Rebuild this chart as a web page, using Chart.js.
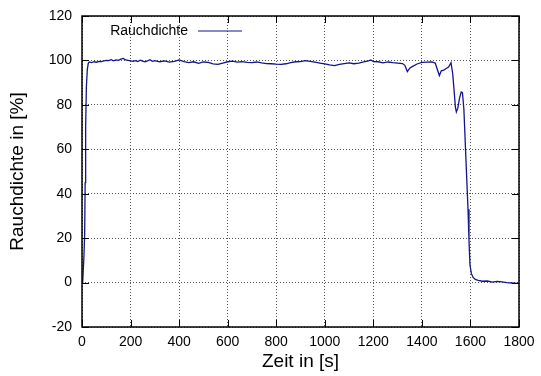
<!DOCTYPE html>
<html>
<head>
<meta charset="utf-8">
<script src="https://cdn.jsdelivr.net/npm/chart.js@4/dist/chart.umd.min.js"></script>
<style>
html,body{margin:0;padding:0;background:#fff;}
#wrap{width:541px;height:376px;position:relative;}
</style>
</head>
<body>
<div id="wrap"><canvas id="c" width="541" height="376"></canvas></div>
<script>
const seriesLabel = 'Rauchdichte';
const xTitle = 'Zeit in [s]';
const yTitle = 'Rauchdichte in [%]';

const zeit = [0,3,8,11,13,15,18,22,26,30,40,50,60,70,80,90,100,110,120,130,140,150,160,170,180,190,200,210,220,230,240,250,260,270,280,290,300,320,340,360,380,400,420,440,460,480,500,520,540,560,580,600,620,640,660,680,700,720,740,760,780,800,820,840,860,880,900,920,940,960,980,1000,1020,1040,1060,1080,1100,1120,1140,1160,1180,1190,1200,1220,1240,1260,1280,1300,1320,1330,1340,1350,1360,1380,1400,1420,1440,1455,1465,1472,1480,1490,1500,1510,1520,1527,1533,1538,1542,1548,1555,1562,1567,1573,1579,1585,1590,1594,1598,1604,1611,1620,1632,1650,1670,1690,1710,1730,1750,1770,1790,1800];
const rauchdichte = [0,0.5,12,22,45,70,88,96,98.8,99.3,99.0,99.4,99.2,99.6,99.5,99.8,100.0,99.9,100.3,99.8,100.2,100.0,100.6,100.9,100.2,100.0,99.8,99.6,99.9,99.5,100.1,99.7,99.4,99.8,100.3,99.6,99.9,99.4,99.8,99.2,99.6,100.2,99.5,99.0,99.4,98.7,99.3,99.1,98.4,98.2,98.8,99.4,99.7,99.2,99.5,99.1,99.0,99.3,98.9,98.6,98.5,98.3,98.2,98.5,99.0,99.4,99.5,99.9,99.6,99.2,98.8,98.4,98.0,97.7,98.2,98.6,98.9,98.5,98.8,99.3,99.8,100.2,99.5,99.4,98.9,99.3,99.0,98.8,98.6,97.8,95.0,96.5,97.2,98.4,99.1,99.2,99.3,98.8,95.5,93.2,95.3,95.6,96.4,97.0,99.0,94,86,79,76.8,78.5,83,85.8,85.5,78,62,46,33,19,8,4,2.3,1.4,1.0,0.6,0.7,0.2,0.5,0.3,0.0,-0.2,-0.4,-0.3];

const xMin = 0, xMax = 1800, xStep = 200;
const yMin = -20, yMax = 120, yStep = 20;

const lineColor = '#14148f';
const fontFam = '"Liberation Sans", Arial, Helvetica, sans-serif';

const framePlugin = {
  id: 'frame',
  afterDatasetsDraw(chart) {
    const {ctx, chartArea: a, scales: {x, y}} = chart;
    ctx.save();
    ctx.strokeStyle = '#000';
    ctx.lineWidth = 1;
    const tl = 7;
    ctx.beginPath();
    x.ticks.forEach(t => {
      const px = Math.round(x.getPixelForValue(t.value)) + 0.5;
      ctx.moveTo(px, a.bottom); ctx.lineTo(px, a.bottom - tl);
      ctx.moveTo(px, a.top); ctx.lineTo(px, a.top + tl);
    });
    y.ticks.forEach(t => {
      const py = Math.round(y.getPixelForValue(t.value)) + 0.5;
      ctx.moveTo(a.left, py); ctx.lineTo(a.left + tl, py);
      ctx.moveTo(a.right, py); ctx.lineTo(a.right - tl, py);
    });
    ctx.stroke();
    ctx.lineWidth = 1.5;
    ctx.strokeRect(a.left, a.top, a.right - a.left, a.bottom - a.top);
    ctx.font = '14px ' + fontFam;
    ctx.fillStyle = '#000';
    ctx.textAlign = 'right';
    ctx.textBaseline = 'middle';
    ctx.fillText(chart.data.datasets[0].label, 188, 31);
    ctx.strokeStyle = chart.data.datasets[0].borderColor;
    ctx.lineWidth = 1.2;
    ctx.beginPath();
    ctx.moveTo(198, 31); ctx.lineTo(242, 31);
    ctx.stroke();
    ctx.restore();
  }
};

new Chart(document.getElementById('c'), {
  type: 'line',
  data: {
    datasets: [{
      label: seriesLabel,
      data: zeit.map((t, i) => ({x: t, y: rauchdichte[i]})),
      borderColor: lineColor,
      borderWidth: 1.3,
      pointRadius: 0,
      tension: 0,
      fill: false
    }]
  },
  options: {
    responsive: false,
    animation: false,
    layout: {padding: {top: 16, right: 22, left: 0, bottom: 0}},
    plugins: {legend: {display: false}, tooltip: {enabled: false}},
    scales: {
      x: {
        type: 'linear', min: xMin, max: xMax,
        afterFit(s) { s.height = 49; s.paddingRight = 0; s.paddingLeft = 0; },
        ticks: {stepSize: xStep, color: '#000', font: {family: fontFam, size: 14}, padding: 7, maxRotation: 0,
                callback: v => String(v)},
        grid: {color: '#555', drawTicks: false, lineWidth: 1},
        border: {display: false, dash: [1, 2]},
        title: {display: true, text: xTitle, color: '#000', font: {family: fontFam, size: 19}, padding: {top: 0, bottom: 3}}
      },
      y: {
        type: 'linear', min: yMin, max: yMax,
        afterFit(s) { s.width = 82; s.paddingTop = 0; s.paddingBottom = 0; },
        ticks: {stepSize: yStep, color: '#000', font: {family: fontFam, size: 14}, padding: 10,
                callback: v => String(v)},
        grid: {color: '#555', drawTicks: false, lineWidth: 1},
        border: {display: false, dash: [1, 2]},
        title: {display: true, text: yTitle, color: '#000', font: {family: fontFam, size: 19}, padding: {top: 6, bottom: 0}}
      }
    }
  },
  plugins: [framePlugin]
});
</script>
</body>
</html>
